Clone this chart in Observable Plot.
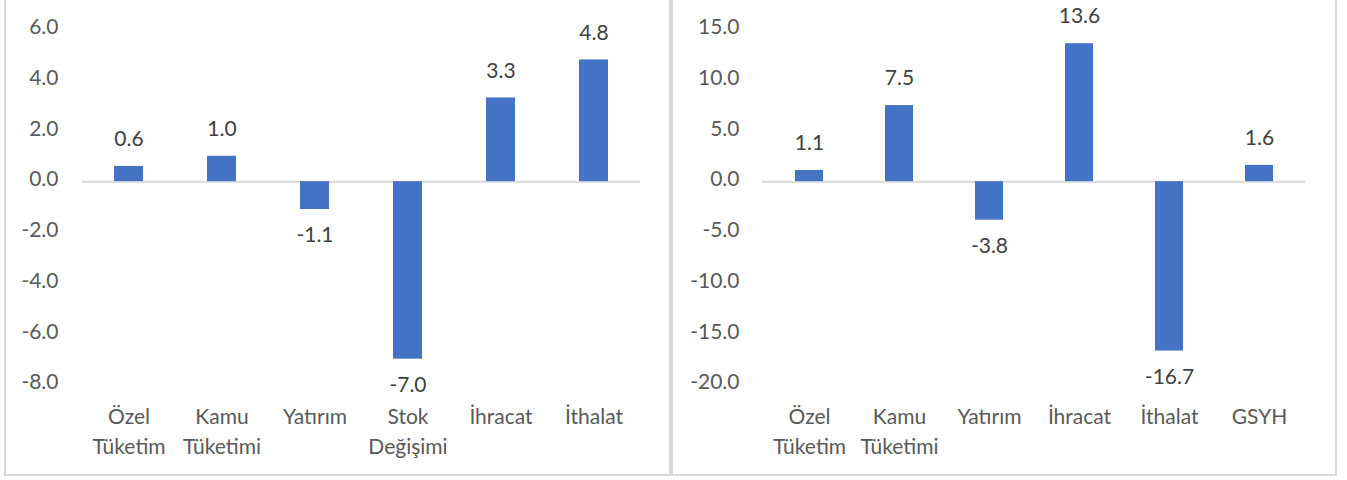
<!DOCTYPE html>
<html>
<head>
<meta charset="utf-8">
<script src="https://cdn.jsdelivr.net/npm/d3@7"></script>
<script src="https://cdn.jsdelivr.net/npm/@observablehq/plot@0.6"></script>
<style>
  html, body { margin: 0; padding: 0; background: #fff; width: 1347px; height: 480px; overflow: hidden; }
  .panel { position: absolute; box-sizing: border-box; border: 2px solid #d9d9d9; background: #fff; }
  .panel svg { display: block; }
</style>
</head>
<body>
<div id="left" class="panel" style="left:4px; top:-3px; width:667px; height:479px;"></div>
<div id="right" class="panel" style="left:671px; top:-3px; width:666px; height:479px;"></div>
<script>
const leftCategories = ["Özel\nTüketim", "Kamu\nTüketimi", "Yatırım", "Stok\nDeğişimi", "İhracat", "İthalat"];
const leftValues = [0.6, 1.0, -1.1, -7.0, 3.3, 4.8];
const leftTicks = [-8, -6, -4, -2, 0, 2, 4, 6];

const rightCategories = ["Özel\nTüketim", "Kamu\nTüketimi", "Yatırım", "İhracat", "İthalat", "GSYH"];
const rightValues = [1.1, 7.5, -3.8, 13.6, -16.7, 1.6];
const rightTicks = [-20, -15, -10, -5, 0, 5, 10, 15];

const BAR = "#4472C4";
const FONT = "Lato, 'Open Sans', sans-serif";

function makeChart(categories, values, ticks, opts) {
  const data = categories.map((c, i) => ({cat: c, value: values[i]}));
  return Plot.plot({
    width: opts.width,
    height: 475,
    marginLeft: opts.marginLeft,
    marginRight: opts.marginRight,
    marginTop: 30,
    marginBottom: 90,
    style: {fontFamily: FONT, fontSize: "21px", color: "#595959", background: "transparent"},
    x: {domain: categories, paddingInner: 0.69, paddingOuter: 0.345, axis: null},
    y: {domain: [ticks[0], ticks[ticks.length - 1]], axis: null},
    marks: [
      Plot.axisY({ticks: ticks, tickSize: 0, tickPadding: opts.tickPadding, tickFormat: d => d.toFixed(1), fontSize: 21, label: null, dy: -2}),
      Plot.ruleY([0], {stroke: "#d9d9d9", strokeWidth: 2}),
      Plot.barY(data, {x: "cat", y: "value", fill: BAR}),
      Plot.text(data.filter(d => d.value >= 0), {x: "cat", y: "value", text: d => d.value.toFixed(1), dy: -27, fill: "#404040", fontSize: 21}),
      Plot.text(data.filter(d => d.value < 0), {x: "cat", y: "value", text: d => d.value.toFixed(1), dy: 26, fill: "#404040", fontSize: 21}),
      Plot.text(data, {x: "cat", text: "cat", frameAnchor: "bottom", lineAnchor: "top", dy: 18, lineHeight: 1.43, fill: "#595959", fontSize: 21})
    ]
  });
}

document.getElementById("left").appendChild(
  makeChart(leftCategories, leftValues, leftTicks, {width: 663, marginLeft: 76, marginRight: 29, tickPadding: 24})
);
document.getElementById("right").appendChild(
  makeChart(rightCategories, rightValues, rightTicks, {width: 662, marginLeft: 89, marginRight: 30, tickPadding: 23})
);
</script>
</body>
</html>
